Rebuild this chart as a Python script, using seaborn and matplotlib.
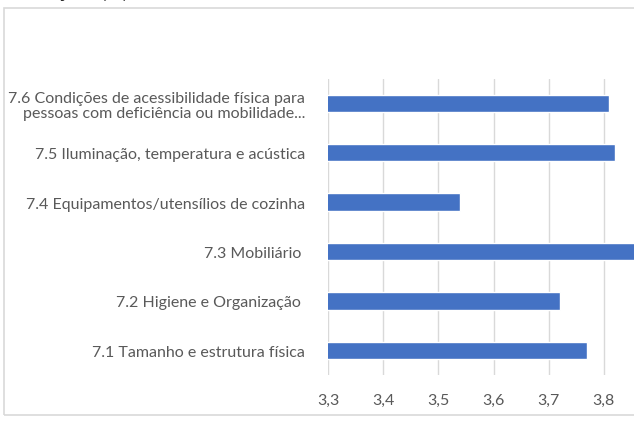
import matplotlib
matplotlib.use("Agg")
import matplotlib.pyplot as plt
from matplotlib.patches import Rectangle
import seaborn as sns
import pandas as pd

# Itens avaliados e médias
itens = [
    "7.1 Tamanho e estrutura física",
    "7.2 Higiene e Organização ",
    "7.3 Mobiliário ",
    "7.4 Equipamentos/utensílios de cozinha",
    "7.5 Iluminação, temperatura e acústica",
    "7.6 Condições de acessibilidade física para\npessoas com deficiência ou mobilidade...",
]
medias = [3.77, 3.72, 3.87, 3.54, 3.82, 3.81]

xticks = [3.3, 3.4, 3.5, 3.6, 3.7, 3.8]
xtick_labels = ["3,3", "3,4", "3,5", "3,6", "3,7", "3,8"]
titulo = "Condições (%)"

df = pd.DataFrame({"item": itens, "media": medias})

sns.set_theme(style="white")
plt.rcParams["font.family"] = ["Lato", "DejaVu Sans"]

W, H = 634, 435
fig = plt.figure(figsize=(W / 100, H / 100), dpi=100)
fig.patch.set_facecolor("white")

# chart frame
fig.add_artist(Rectangle((4 / W, 1 - 416 / H), 1.2, (416 - 9) / H,
                         transform=fig.transFigure, fill=False,
                         edgecolor="#d9d9d9", lw=1.2))

# title (top of chart area, above the frame)
fig.text(6 / W, 1 + 2 / H, titulo, ha="left", va="baseline",
         fontsize=14, fontweight="bold", color="#262626")

ax = fig.add_axes([328 / W, 1 - 376 / H, (659 - 328) / W, (376 - 79.5) / H])
sns.barplot(data=df, x="media", y="item", order=itens[::-1], orient="h",
            color="#4472c4", saturation=1, width=0.35, ax=ax)

ax.set_xlim(3.3, 3.9)
ax.set_xticks(xticks)
ax.set_xticklabels(xtick_labels)
ax.set_xlabel("")
ax.set_ylabel("")
ax.grid(axis="x", color="#d9d9d9", lw=1)
ax.set_axisbelow(True)
for s in ax.spines.values():
    s.set_visible(False)
ax.tick_params(axis="x", length=6, color="#d9d9d9", width=1,
               labelsize=11.5, labelcolor="#595959", pad=7)
ax.tick_params(axis="y", length=0, labelsize=11.5, labelcolor="#595959", pad=16.5)
for lbl in ax.get_yticklabels():
    lbl.set_linespacing(1.15)

fig.savefig("out.png", dpi=100)
